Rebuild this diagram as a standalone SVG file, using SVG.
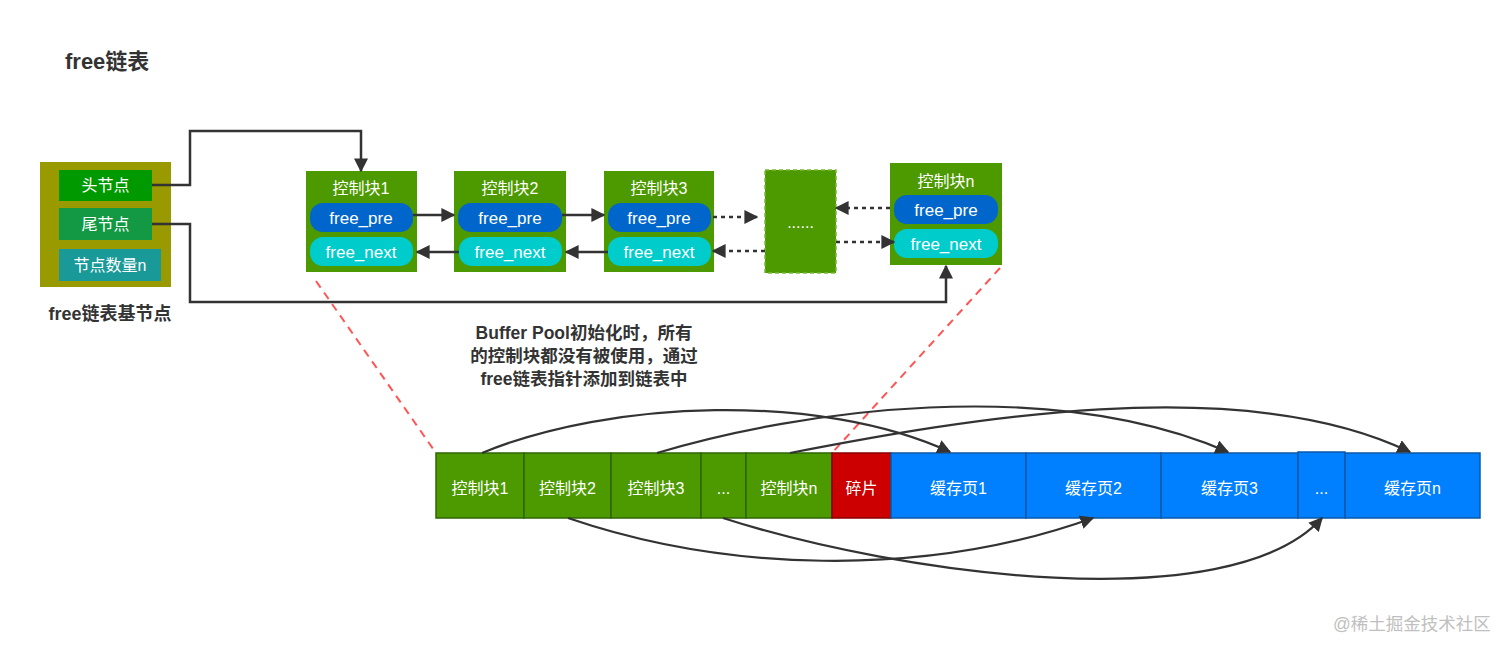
<svg xmlns="http://www.w3.org/2000/svg" width="1512" height="653" viewBox="0 0 1512 653">
<defs>
<marker id="ahb" viewBox="0 0 10 10" refX="9" refY="5" markerWidth="14" markerHeight="14" markerUnits="userSpaceOnUse" orient="auto">
<path d="M0,0 L10,5 L0,10 Z" fill="#333"/>
</marker>
</defs>
<style>
text{font-family:"Liberation Sans","Noto Sans CJK SC",sans-serif;}
.w{fill:#fff;font-size:16px;text-anchor:middle;}
.p{fill:#fff;font-size:17px;text-anchor:middle;}
.blk{fill:#4d9900;}
.pre{fill:#0066cc;}
.nxt{fill:#00cccc;}
.ln{fill:none;stroke:#333;stroke-width:2.5;}
.dot{fill:none;stroke:#333;stroke-width:2.5;stroke-dasharray:4 4;}
.red{fill:none;stroke:#ff5555;stroke-width:2;stroke-dasharray:8 6;}
.cv{fill:none;stroke:#333;stroke-width:2.2;}
.g{fill:#4d9900;stroke:#2e6600;stroke-width:1.5;}
.r{fill:#cc0000;stroke:#8a0000;stroke-width:1.5;}
.b{fill:#007fff;stroke:#0a5aa8;stroke-width:1.5;}
.mid{font-size:17.5px;font-weight:bold;fill:#333;text-anchor:middle;}
</style>
<rect width="1512" height="653" fill="#fff"/>
<text x="65" y="69" font-size="22" font-weight="bold" fill="#333">free链表</text>

<g id="base">
<rect x="40" y="162" width="131" height="125" fill="#999900"/>
<g id="head"><rect x="59" y="170" width="93" height="31" fill="#009900"/><text class="w" x="105.5" y="191">头节点</text></g>
<g id="tail"><rect x="59" y="208" width="93" height="32" fill="#139944"/><text class="w" x="105.5" y="230">尾节点</text></g>
<g id="count"><rect x="59" y="249" width="102" height="32" fill="#1a9999"/><text class="w" x="110" y="271">节点数量n</text></g>
<text x="110" y="320" font-size="18" font-weight="bold" fill="#333" text-anchor="middle">free链表基节点</text>
</g>

<g id="cb1">
<rect class="blk" x="306" y="171" width="111" height="101"/>
<text class="w" x="361" y="194">控制块1</text>
<rect class="pre" x="310" y="203" width="103" height="29" rx="13"/><text class="p" x="361" y="224">free_pre</text>
<rect class="nxt" x="310" y="237" width="103" height="29" rx="13"/><text class="p" x="361" y="258">free_next</text>
</g>
<g id="cb2">
<rect class="blk" x="454" y="171" width="112" height="101"/>
<text class="w" x="510" y="194">控制块2</text>
<rect class="pre" x="458" y="203" width="104" height="29" rx="13"/><text class="p" x="510" y="224">free_pre</text>
<rect class="nxt" x="459" y="237" width="103" height="29" rx="13"/><text class="p" x="510" y="258">free_next</text>
</g>
<g id="cb3">
<rect class="blk" x="604" y="171" width="110" height="101"/>
<text class="w" x="659" y="194">控制块3</text>
<rect class="pre" x="608" y="203" width="103" height="29" rx="13"/><text class="p" x="659" y="224">free_pre</text>
<rect class="nxt" x="608" y="237" width="103" height="29" rx="13"/><text class="p" x="659" y="258">free_next</text>
</g>
<g id="cbdots">
<rect x="765" y="170" width="71" height="103" fill="#4d9900" stroke="#77bb33" stroke-width="1.5" stroke-dasharray="4 3"/>
<text class="w" x="800.5" y="228" font-size="13">......</text>
</g>
<g id="cbn">
<rect class="blk" x="890" y="163" width="112" height="102"/>
<text class="w" x="946" y="187">控制块n</text>
<rect class="pre" x="894" y="195" width="104" height="29" rx="13"/><text class="p" x="946" y="216">free_pre</text>
<rect class="nxt" x="894" y="229" width="104" height="29" rx="13"/><text class="p" x="946" y="250">free_next</text>
</g>

<text class="mid" x="584" y="339">Buffer Pool初始化时，所有</text>
<text class="mid" x="584" y="362">的控制块都没有被使用，通过</text>
<text class="mid" x="584" y="385">free链表指针添加到链表中</text>

<g id="row">
<g id="r-cb1"><rect class="g" x="436" y="453" width="88" height="65"/><text class="w" x="480" y="494">控制块1</text></g>
<g id="r-cb2"><rect class="g" x="524" y="453" width="87" height="65"/><text class="w" x="567.5" y="494">控制块2</text></g>
<g id="r-cb3"><rect class="g" x="611" y="453" width="90" height="65"/><text class="w" x="656" y="494">控制块3</text></g>
<g id="r-cbd"><rect class="g" x="701" y="453" width="45" height="65"/><text class="w" x="723.5" y="494">...</text></g>
<g id="r-cbn"><rect class="g" x="746" y="453" width="86" height="65"/><text class="w" x="789" y="494">控制块n</text></g>
<g id="r-frag"><rect class="r" x="832" y="453" width="59" height="65"/><text class="w" x="861.5" y="494">碎片</text></g>
<g id="r-p1"><rect class="b" x="891" y="453" width="135" height="65"/><text class="w" x="958.5" y="494">缓存页1</text></g>
<g id="r-p2"><rect class="b" x="1026" y="453" width="135" height="65"/><text class="w" x="1093.5" y="494">缓存页2</text></g>
<g id="r-p3"><rect class="b" x="1161" y="453" width="137" height="65"/><text class="w" x="1229.5" y="494">缓存页3</text></g>
<g id="r-pd"><rect class="b" x="1298" y="452" width="47" height="66"/><text class="w" x="1321.5" y="494">...</text></g>
<g id="r-pn"><rect class="b" x="1345" y="453" width="135" height="65"/><text class="w" x="1412.5" y="494">缓存页n</text></g>
</g>

<g id="connectors">
<path class="ln" d="M152,185 H190 V131 H361 V171" marker-end="url(#ahb)"/>
<path class="ln" d="M152,224 H190 V302 H946 V266" marker-end="url(#ahb)"/>
<path class="ln" d="M413,215 H454" marker-end="url(#ahb)"/>
<path class="ln" d="M459,252 H417" marker-end="url(#ahb)"/>
<path class="ln" d="M562,215 H604" marker-end="url(#ahb)"/>
<path class="ln" d="M608,252 H566" marker-end="url(#ahb)"/>
<path class="dot" d="M713,217 H757" marker-end="url(#ahb)"/>
<path class="dot" d="M765,251 H713" marker-end="url(#ahb)"/>
<path class="dot" d="M890,208 H836" marker-end="url(#ahb)"/>
<path class="dot" d="M836,242 H894" marker-end="url(#ahb)"/>
<path class="red" d="M316,281 L436,453"/>
<path class="red" d="M1000,268 L832,453"/>
<path class="cv" d="M482,453 C610,400 820,392 950,452" marker-end="url(#ahb)"/>
<path class="cv" d="M657,453 C800,410 1050,375 1228,452" marker-end="url(#ahb)"/>
<path class="cv" d="M790,453 C960,420 1240,370 1410,452" marker-end="url(#ahb)"/>
<path class="cv" d="M568,518 C720,570 920,580 1093,518" marker-end="url(#ahb)"/>
<path class="cv" d="M723,518 C900,575 1230,620 1322,518" marker-end="url(#ahb)"/>
</g>

<text x="1333" y="630" font-size="17.5" fill="#c0c0c0">@稀土掘金技术社区</text>
</svg>
